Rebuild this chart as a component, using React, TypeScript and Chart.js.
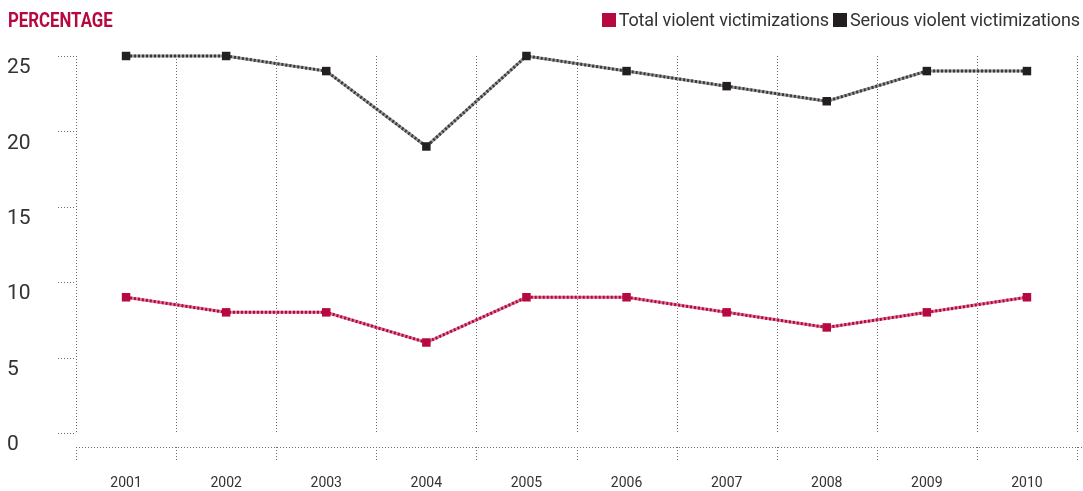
import React, { useEffect, useRef } from 'react';
import { Chart, registerables } from 'chart.js';

Chart.register(...registerables);

const years = ['2001', '2002', '2003', '2004', '2005', '2006', '2007', '2008', '2009', '2010'];
const totalViolent = [9, 8, 8, 6, 9, 9, 8, 7, 8, 9];
const seriousViolent = [25, 25, 24, 19, 25, 24, 23, 22, 24, 24];
const yTicks = [0, 5, 10, 15, 20, 25];
const legendLabels = ['Total violent victimizations', 'Serious violent victimizations'];

const FONT = 'Roboto, "Liberation Sans", sans-serif';
const RED = '#b5093f';
const DARK = '#231f20';
const TEXT = '#333333';
const underColors = ['#dc7896', '#9a9a9a'];

const gridPlugin = {
  id: 'dottedGrid',
  beforeDatasetsDraw(chart: any) {
    const { ctx, chartArea, scales } = chart;
    const x = scales.x;
    const y = scales.y;
    const n = years.length;
    const step = (chartArea.right - chartArea.left) / n;
    const yTop = y.getPixelForValue(yTicks[yTicks.length - 1]);
    const yZero = y.getPixelForValue(0);
    ctx.save();
    ctx.lineWidth = 1;
    ctx.strokeStyle = '#6a6a6a';
    ctx.setLineDash([1, 2]);
    for (let i = 0; i <= n; i++) {
      const px = Math.round(x.getPixelForValue(i) - step / 2) + 0.5;
      ctx.beginPath();
      ctx.moveTo(px, yTop);
      ctx.lineTo(px, yZero);
      ctx.stroke();
      ctx.beginPath();
      ctx.moveTo(px, chartArea.bottom);
      ctx.lineTo(px, chartArea.bottom + 15);
      ctx.stroke();
    }
    const by = Math.round(chartArea.bottom) + 0.5;
    ctx.beginPath();
    ctx.moveTo(chartArea.left, by);
    ctx.lineTo(chart.width, by);
    ctx.stroke();
    for (const v of yTicks) {
      const py = Math.round(y.getPixelForValue(v)) + 0.5;
      ctx.beginPath();
      ctx.moveTo(chartArea.left - 18, py);
      ctx.lineTo(chartArea.left, py);
      ctx.stroke();
    }
    ctx.restore();
  },
  beforeDatasetDraw(chart: any, args: any) {
    const meta = args.meta;
    const pts = meta.data;
    if (!pts || !pts.length) return;
    const ctx = chart.ctx;
    ctx.save();
    ctx.lineWidth = 3;
    ctx.strokeStyle = underColors[args.index] || '#999';
    ctx.setLineDash([]);
    ctx.beginPath();
    pts.forEach((p: any, i: number) => {
      if (i === 0) ctx.moveTo(p.x, p.y);
      else ctx.lineTo(p.x, p.y);
    });
    ctx.stroke();
    ctx.restore();
  },
};

export default function App() {
  const ref = useRef<HTMLCanvasElement>(null);
  useEffect(() => {
    document.body.style.margin = '0';
    const chart = new Chart(ref.current!, {
      type: 'line',
      data: {
        labels: years,
        datasets: [
          {
            label: legendLabels[0],
            data: totalViolent,
            borderColor: '#b0083c',
            backgroundColor: RED,
            borderWidth: 3,
            borderDash: [2, 2],
            pointStyle: 'rect',
            pointRadius: 6,
            pointBorderWidth: 0,
            pointBackgroundColor: RED,
            tension: 0,
            clip: false,
          },
          {
            label: legendLabels[1],
            data: seriousViolent,
            borderColor: '#3a3a3a',
            backgroundColor: DARK,
            borderWidth: 3,
            borderDash: [2, 2],
            pointStyle: 'rect',
            pointRadius: 6,
            pointBorderWidth: 0,
            pointBackgroundColor: DARK,
            tension: 0,
            clip: false,
          },
        ],
      },
      options: {
        responsive: false,
        animation: false,
        devicePixelRatio: 1,
        layout: { padding: { top: 56, left: 7, right: 3, bottom: 0 } },
        plugins: {
          legend: { display: false },
          title: { display: false },
          tooltip: { enabled: false },
        },
        scales: {
          x: {
            offset: true,
            grid: { display: false, drawTicks: false },
            border: { display: false },
            ticks: {
              color: TEXT,
              font: { family: FONT, size: 14 },
              padding: 28,
              maxRotation: 0,
            },
            afterFit: (s: any) => {
              s.height = 44;
            },
          },
          y: {
            min: -0.93,
            max: 25,
            grid: { display: false, drawTicks: false },
            border: { display: false },
            afterBuildTicks: (s: any) => {
              s.ticks = yTicks.map((v) => ({ value: v }));
            },
            ticks: {
              color: TEXT,
              crossAlign: 'far',
              font: { family: FONT, size: 21, lineHeight: '24px' },
              callback: (v: any) => ['', String(v)],
            },
            afterFit: (s: any) => {
              s.width = 69;
            },
          },
        },
      },
      plugins: [gridPlugin],
    } as any);
    return () => chart.destroy();
  }, []);

  return (
    <div style={{ position: 'relative', width: 1083, height: 491 }}>
      <canvas ref={ref} width={1083} height={491} style={{ display: 'block' }} />
      <div
        style={{
          position: 'absolute',
          left: 8,
          top: 10,
          fontFamily: FONT,
          fontWeight: 'bold',
          fontSize: 21,
          lineHeight: '21px',
          color: RED,
          transform: 'scaleX(0.8)',
          transformOrigin: 'left center',
        }}
      >
        PERCENTAGE
      </div>
      <div
        style={{
          position: 'absolute',
          right: 3,
          top: 11,
          display: 'flex',
          alignItems: 'center',
          fontFamily: FONT,
          fontSize: 18,
          lineHeight: '18px',
          letterSpacing: '-0.12px',
          color: TEXT,
          whiteSpace: 'nowrap',
        }}
      >
        <span style={{ display: 'inline-block', width: 14, height: 14, background: RED, marginRight: 3 }} />
        <span style={{ marginRight: 4 }}>{legendLabels[0]}</span>
        <span style={{ display: 'inline-block', width: 14, height: 14, background: DARK, marginRight: 3 }} />
        <span>{legendLabels[1]}</span>
      </div>
    </div>
  );
}
